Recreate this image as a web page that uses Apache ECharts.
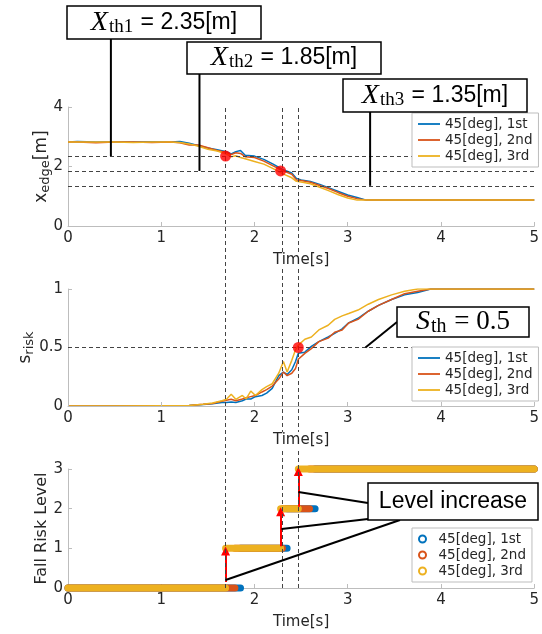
<!DOCTYPE html>
<html>
<head>
<meta charset="utf-8">
<script src="https://cdn.jsdelivr.net/npm/echarts@6/dist/echarts.min.js"></script>
<style>
html, body { margin: 0; padding: 0; background: #fff; }
#main { width: 542px; height: 634px; }
</style>
</head>
<body>
<div id="main"></div>
<script>
// runs
const runNames = ['45[deg], 1st', '45[deg], 2nd', '45[deg], 3rd'];
const runColors = ['#0072BD', '#D95319', '#EDB120'];

// panel 1: x_edge [m]
const edgeTime = [0, 0.1, 0.3, 0.5, 0.7, 0.9, 1.1, 1.2, 1.3, 1.4, 1.5, 1.6, 1.7, 1.75, 1.8, 1.85, 1.9, 2.0, 2.1, 2.2, 2.3, 2.4, 2.45, 2.5, 2.6, 2.7, 2.8, 2.9, 3.0, 3.1, 3.2, 5.0];
const edge1 = [2.82, 2.84, 2.82, 2.83, 2.82, 2.83, 2.82, 2.84, 2.78, 2.70, 2.62, 2.56, 2.50, 2.42, 2.50, 2.54, 2.38, 2.35, 2.24, 2.08, 1.90, 1.78, 1.60, 1.55, 1.50, 1.40, 1.28, 1.16, 1.04, 0.96, 0.87, 0.87];
const edge2 = [2.82, 2.82, 2.80, 2.82, 2.82, 2.81, 2.82, 2.80, 2.72, 2.72, 2.63, 2.54, 2.47, 2.40, 2.46, 2.44, 2.33, 2.30, 2.18, 2.02, 1.86, 1.74, 1.55, 1.53, 1.47, 1.36, 1.25, 1.12, 1.00, 0.92, 0.87, 0.87];
const edge3 = [2.82, 2.82, 2.82, 2.82, 2.81, 2.82, 2.82, 2.81, 2.76, 2.68, 2.58, 2.52, 2.42, 2.33, 2.36, 2.30, 2.26, 2.17, 2.08, 1.93, 1.76, 1.62, 1.50, 1.48, 1.42, 1.30, 1.18, 1.05, 0.94, 0.87, 0.87, 0.87];
const xThresholds = [2.35, 1.85, 1.35];
const edgeHits = [[1.69, 2.35], [2.28, 1.85]];

// panel 2: s_risk
const riskTime = [0, 0.5, 1.0, 1.3, 1.45, 1.55, 1.65, 1.7, 1.75, 1.8, 1.87, 1.91, 1.96, 2.01, 2.08, 2.13, 2.19, 2.26, 2.31, 2.35, 2.4, 2.44, 2.47, 2.54, 2.61, 2.69, 2.79, 2.86, 2.94, 3.01, 3.11, 3.22, 3.33, 3.47, 3.61, 3.75, 3.89, 4.0, 5.0];
const risk1 = [0, 0, 0.002, 0.004, 0.012, 0.02, 0.03, 0.03, 0.035, 0.03, 0.045, 0.06, 0.06, 0.08, 0.09, 0.11, 0.15, 0.26, 0.29, 0.27, 0.31, 0.38, 0.45, 0.46, 0.51, 0.55, 0.59, 0.62, 0.66, 0.71, 0.75, 0.81, 0.86, 0.91, 0.95, 0.97, 1.0, 1.0, 1.0];
const risk2 = [0, 0, 0.003, 0.005, 0.014, 0.022, 0.04, 0.05, 0.057, 0.045, 0.06, 0.07, 0.08, 0.09, 0.12, 0.14, 0.17, 0.23, 0.29, 0.26, 0.28, 0.32, 0.40, 0.45, 0.49, 0.55, 0.58, 0.63, 0.65, 0.71, 0.74, 0.81, 0.86, 0.91, 0.96, 0.98, 1.0, 1.0, 1.0];
const risk3 = [0, 0, 0.003, 0.005, 0.015, 0.025, 0.045, 0.057, 0.10, 0.057, 0.09, 0.06, 0.128, 0.09, 0.14, 0.165, 0.19, 0.28, 0.38, 0.29, 0.39, 0.48, 0.52, 0.57, 0.59, 0.65, 0.69, 0.74, 0.77, 0.79, 0.82, 0.87, 0.91, 0.95, 0.98, 1.0, 1.0, 1.0, 1.0];
const sThreshold = 0.5;
const riskHits = [[2.47, 0.5]];

// panel 3: fall risk level, times where each run goes up one level
const levelUp1 = [1.85, 2.35, 2.65];
const levelUp2 = [1.79, 2.30, 2.59];
const levelUp3 = [1.69, 2.28, 2.47];
const levelArrows = [[1.69, 0.15, 0.93], [2.28, 1.05, 1.92], [2.47, 2.05, 2.94]];

// threshold crossing times (vertical dashed lines)
const triggerTimes = [1.68, 2.28, 2.465];

const font = 'DejaVu Sans';
const txt = '#262626';
const axisGrey = '#bdbdbd';

function steps(times) {
    let b = [0].concat(times).concat([5]);
    let out = [];
    for (let i = 0; i < 4; i++) {
        out.push([b[i], i], [b[i + 1], i], [b[i + 1], '-']);
    }
    return out;
}
function zip(t, v) {
    return t.map((x, i) => [x, v[i]]);
}

function xAx(gi, extra) {
    return Object.assign({
        type: 'value', gridIndex: gi, min: 0, max: 5, interval: 1,
        axisLine: { lineStyle: { color: axisGrey } },
        axisTick: { inside: true, length: 4, lineStyle: { color: axisGrey } },
        axisLabel: { color: txt, fontSize: 15, margin: 5, fontFamily: font },
        splitLine: { show: false },
        name: 'Time[s]', nameLocation: 'middle', nameGap: 26,
        nameTextStyle: { color: txt, fontSize: 15, fontFamily: font, backgroundColor: '#fff', padding: [1, 3] }
    }, extra);
}
function yAx(gi, min, max, interval, extra) {
    return Object.assign({
        type: 'value', gridIndex: gi, min: min, max: max, interval: interval,
        axisLine: { show: true, lineStyle: { color: axisGrey } },
        axisTick: { show: true, inside: true, length: 4, lineStyle: { color: axisGrey } },
        axisLabel: { color: txt, fontSize: 15, margin: 5, fontFamily: font },
        splitLine: { show: false },
        nameLocation: 'middle', nameMoveOverlap: false
    }, extra);
}

const subRich = {
    n: { fontSize: 17, fontFamily: font, color: txt, lineHeight: 20 },
    s: { fontSize: 13, fontFamily: font, color: txt, padding: [8, 0, 0, 0] }
};

const dashed = { color: '#444', type: [4, 3], width: 1 };

let series = [];
const edges = [edge1, edge2, edge3];
const risks = [risk1, risk2, risk3];
const ups = [levelUp1, levelUp2, levelUp3];

for (let i = 0; i < 3; i++) {
    series.push({
        name: runNames[i], type: 'line', xAxisIndex: 0, yAxisIndex: 0,
        data: zip(edgeTime, edges[i]), symbol: 'none', color: runColors[i],
        lineStyle: { width: 1.5 }
    });
}
series.push({
    name: 'edgeHit', type: 'scatter', xAxisIndex: 0, yAxisIndex: 0,
    data: edgeHits, symbolSize: 11, itemStyle: { color: '#ff0000' }, z: 5,
    markLine: {
        silent: true, symbol: 'none', label: { show: false }, lineStyle: dashed,
        data: xThresholds.map(v => ({ yAxis: v }))
    }
});
for (let i = 0; i < 3; i++) {
    series.push({
        name: runNames[i], type: 'line', xAxisIndex: 1, yAxisIndex: 1,
        data: zip(riskTime, risks[i]), symbol: 'none', color: runColors[i],
        lineStyle: { width: 1.5 }
    });
}
series.push({
    name: 'riskHit', type: 'scatter', xAxisIndex: 1, yAxisIndex: 1,
    data: riskHits, symbolSize: 11, itemStyle: { color: '#ff0000' }, z: 5,
    markLine: {
        silent: true, symbol: 'none', label: { show: false }, lineStyle: dashed,
        data: [{ yAxis: sThreshold }]
    }
});
for (let i = 0; i < 3; i++) {
    series.push({
        name: runNames[i], type: 'line', xAxisIndex: 2, yAxisIndex: 2,
        data: steps(ups[i]), symbol: 'none', color: runColors[i], clip: false,
        connectNulls: false,
        lineStyle: { width: 7, cap: 'round' }
    });
}
series.push({
    name: 'arrows', type: 'scatter', xAxisIndex: 2, yAxisIndex: 2,
    data: [], symbolSize: 0, z: 6,
    markLine: {
        silent: true, symbol: ['none', 'triangle'], symbolSize: 9,
        label: { show: false },
        lineStyle: { color: '#ff0000', type: 'solid', width: 2 },
        data: levelArrows.map(a => [{ coord: [a[0], a[1]] }, { coord: [a[0], a[2]] }])
    }
});
series.push({
    name: 'trigger', type: 'scatter', xAxisIndex: 3, yAxisIndex: 3,
    data: [], symbolSize: 0, z: 1,
    markLine: {
        silent: true, symbol: 'none', label: { show: false }, lineStyle: dashed,
        data: triggerTimes.map(t => ({ xAxis: t }))
    }
});

const lineIcon = 'path://M0,0H22V1.8H0Z';
function legend(top, circles) {
    return {
        orient: 'vertical', left: 412, top: top, z: 10,
        selectedMode: false,
        backgroundColor: '#fff', borderColor: axisGrey, borderWidth: 1, borderRadius: 0,
        padding: [4, 6], itemGap: 2, itemWidth: 22, itemHeight: circles ? 7 : 14,
        textStyle: { color: txt, fontSize: 13.5, fontFamily: font },
        data: runNames.map(n => ({ name: n, icon: circles ? 'emptyCircle' : lineIcon }))
    };
}

let option = {
    animation: false,
    backgroundColor: '#fff',
    textStyle: { fontFamily: font },
    grid: [
        { left: 68, top: 107, width: 469, height: 119 },
        { left: 68, top: 289, width: 469, height: 117 },
        { left: 68, top: 469, width: 469, height: 119 },
        { left: 68, top: 107, width: 469, height: 481 }
    ],
    xAxis: [
        xAx(0, { z: 5 }),
        xAx(1, { z: 5 }),
        xAx(2, {}),
        { type: 'value', gridIndex: 3, min: 0, max: 5, show: false }
    ],
    yAxis: [
        yAx(0, 0, 4, 2, { name: '{n|x}{s|edge}{n|[m]}', nameGap: 16, nameTextStyle: { rich: subRich } }),
        yAx(1, 0, 1, 0.5, { name: '{n|s}{s|risk}', nameGap: 32, nameTextStyle: { rich: subRich } }),
        yAx(2, 0, 3, 1, { name: 'Fall Risk Level', nameGap: 18, nameTextStyle: { color: txt, fontSize: 16, fontFamily: font } }),
        { type: 'value', gridIndex: 3, min: 0, max: 1, show: false }
    ],
    legend: [legend(113, false), legend(347, false), legend(528, true)],
    series: series
};

let chart = echarts.init(document.getElementById('main'));
chart.setOption(option);

// annotation boxes and leader lines
const px = (gi, pt) => chart.convertToPixel({ gridIndex: gi }, pt);
const serif = 'Liberation Serif';
const sans = 'Liberation Sans';

function box(x, y, w, h, text, rich) {
    return [
        { type: 'rect', z: 20, shape: { x: x, y: y, width: w, height: h }, style: { fill: '#fff', stroke: '#000', lineWidth: 1.5 } },
        { type: 'text', z: 21, x: x + w / 2, y: y + h / 2, style: { text: text, rich: rich, align: 'center', verticalAlign: 'middle', fill: '#000' } }
    ];
}
function lead(p1, p2) {
    return { type: 'line', z: 19, shape: { x1: p1[0], y1: p1[1], x2: p2[0], y2: p2[1] }, style: { stroke: '#000', lineWidth: 2 } };
}
const xthRich = {
    i: { fontFamily: serif, fontStyle: 'italic', fontSize: 28, lineHeight: 28, fill: '#000' },
    s: { fontFamily: serif, fontSize: 19, padding: [9, 1, 0, 1], fill: '#000' },
    r: { fontFamily: sans, fontSize: 23, lineHeight: 28, fill: '#000' }
};
const sthRich = {
    i: { fontFamily: serif, fontStyle: 'italic', fontSize: 28, lineHeight: 28, fill: '#000' },
    s: { fontFamily: serif, fontSize: 20, padding: [9, 1, 0, 1], fill: '#000' },
    r: { fontFamily: serif, fontSize: 27, lineHeight: 28, fill: '#000' }
};

const leadT = [0.46, 1.41, 3.24];
const boxes = [[67, 6, 194, 33, '1', '2.35'], [187, 42, 194, 32, '2', '1.85'], [343, 79, 184, 33, '3', '1.35']];
let g = [];
boxes.forEach((b, i) => {
    let top = px(0, [leadT[i], xThresholds[i]]);
    g.push(lead([top[0], b[1] + b[3]], top));
    g = g.concat(box(b[0], b[1], b[2], b[3], '{i|X}{s|th' + b[4] + '}{r| = ' + b[5] + '[m]}', xthRich));
});
g.push(lead([397, 322], px(1, [3.19, sThreshold])));
g = g.concat(box(397, 307, 132, 30, '{i|S}{s|th}{r| = 0.5}', sthRich));
g.push(lead([368, 503], px(2, [2.47, 2.42])));
g.push(lead([368, 519], px(2, [2.29, 1.49])));
g.push(lead([400, 520], px(2, [1.69, 0.2])));
g = g.concat(box(368, 483, 170, 37, 'Level increase', { }));
g[g.length - 1].style.font = '23px "Liberation Sans"';

chart.setOption({ graphic: g });
</script>
</body>
</html>
